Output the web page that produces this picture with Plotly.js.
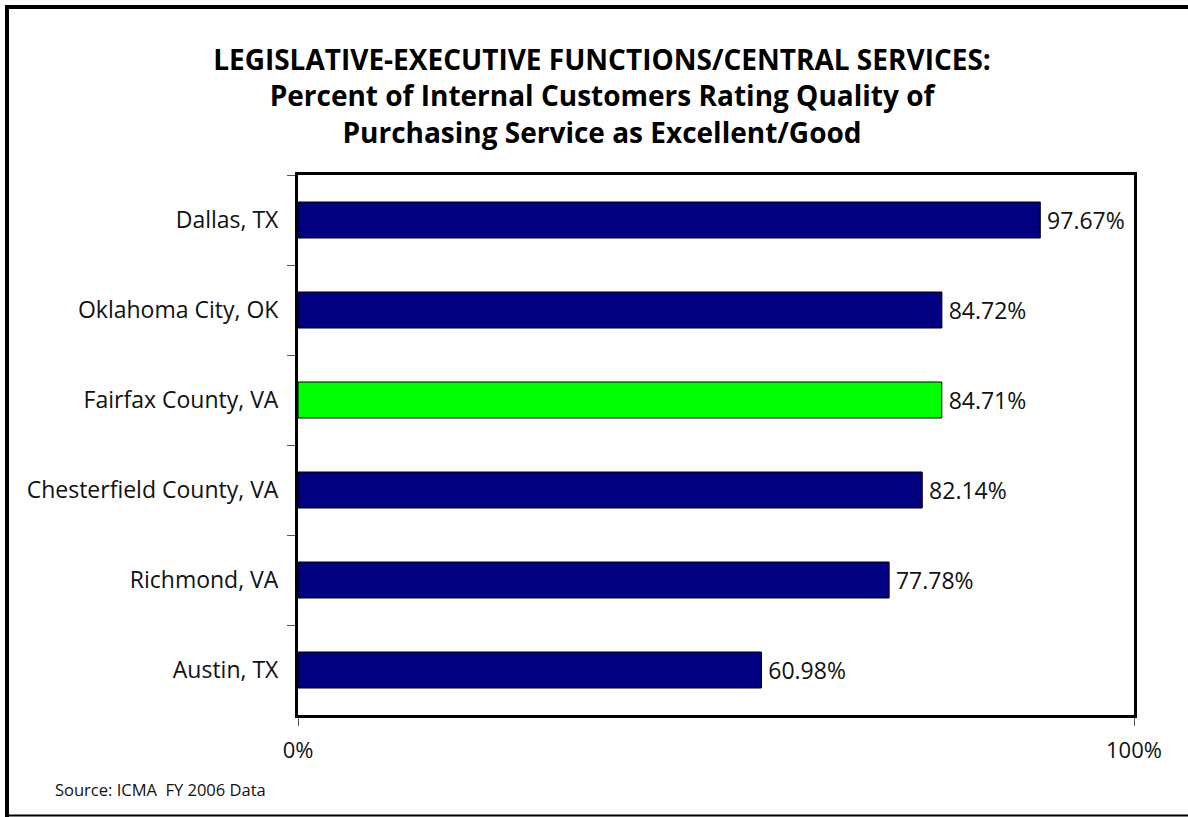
<!DOCTYPE html>
<html>
<head>
<meta charset="utf-8">
<script src="https://cdn.plot.ly/plotly-3.0.1.min.js"></script>
<style>
  html, body { margin: 0; padding: 0; background: #fff; }
  #chart { width: 1188px; height: 817px; }
</style>
</head>
<body>
<div id="chart"></div>
<script>
// ---- Data (top to bottom as shown) ----
const categories = ["Dallas, TX", "Oklahoma City, OK", "Fairfax County, VA", "Chesterfield County, VA", "Richmond, VA", "Austin, TX"];
const values = [97.67, 84.72, 84.71, 82.14, 77.78, 60.98];
const valueLabels = ["97.67%", "84.72%", "84.71%", "82.14%", "77.78%", "60.98%"];
const barColors = ["#000080", "#000080", "#00FF00", "#000080", "#000080", "#000080"];
const xTickVals = [0, 110];
const xTickText = ["0%", "100%"];
const titleLines = ["LEGISLATIVE-EXECUTIVE FUNCTIONS/CENTRAL SERVICES:", "Percent of Internal Customers Rating Quality of", "Purchasing Service as Excellent/Good"];
const sourceText = "Source: ICMA  FY 2006 Data";

// ---- Layout geometry ----
const W = 1188, H = 817;
const M = { l: 298, r: 54, t: 175, b: 102 };
const PW = W - M.l - M.r, PH = H - M.t - M.b;
const px = x => (x - M.l) / PW;
const py = y => (H - M.b - y) / PH;

const FONT = "'Open Sans', Lato, sans-serif";

const trace = {
  type: "bar",
  orientation: "h",
  y: categories,
  x: values,
  text: valueLabels,
  texttemplate: "\u2009%{text}",
  textposition: "outside",
  textfont: { family: FONT, size: 23, color: "#111" },
  cliponaxis: false,
  width: 0.4,
  marker: { color: barColors, line: { color: "#000", width: 1 } },
  hoverinfo: "skip"
};

const layout = {
  width: W, height: H,
  margin: M,
  paper_bgcolor: "#fff",
  plot_bgcolor: "#fff",
  showlegend: false,
  font: { family: FONT, color: "#111" },
  title: {
    text: titleLines.join("<br>"),
    font: { family: FONT, size: 28, color: "#000", weight: "bold" },
    xref: "container", x: 602 / W, xanchor: "center",
    yref: "container", y: 1 - 70 / H, yanchor: "top"
  },
  xaxis: {
    range: [0, 110],
    tickvals: xTickVals,
    ticktext: xTickText,
    ticks: "outside", ticklen: 8, tickcolor: "#555", tickwidth: 1,
    tickfont: { family: FONT, size: 22, color: "#111" },
    ticklabelstandoff: 6,
    showgrid: false, zeroline: false,
    showline: true, linecolor: "#000", linewidth: 3, mirror: true,
    fixedrange: true
  },
  yaxis: {
    type: "category",
    autorange: "reversed",
    tickson: "boundaries",
    ticks: "outside", ticklen: 8, tickcolor: "#555", tickwidth: 1,
    tickfont: { family: FONT, size: 23, color: "#111" },
    ticklabelstandoff: 12,
    showgrid: false, zeroline: false,
    showline: true, linecolor: "#000", linewidth: 3, mirror: true,
    fixedrange: true
  },
  annotations: [{
    text: sourceText,
    xref: "paper", yref: "paper",
    x: px(53), y: py(789),
    xanchor: "left", yanchor: "middle",
    showarrow: false,
    font: { family: FONT, size: 16.5, color: "#111" }
  }],
  shapes: [
    { type: "line", xref: "paper", yref: "paper", x0: px(5), x1: px(1188), y0: py(7), y1: py(7), line: { color: "#000", width: 4 } },
    { type: "line", xref: "paper", yref: "paper", x0: px(7), x1: px(7), y0: py(5), y1: py(817), line: { color: "#000", width: 4 } },
    { type: "line", xref: "paper", yref: "paper", x0: px(5), x1: px(1188), y0: py(815.5), y1: py(815.5), line: { color: "#000", width: 2 } }
  ]
};

Plotly.newPlot("chart", [trace], layout, { displayModeBar: false, staticPlot: true });
</script>
</body>
</html>
